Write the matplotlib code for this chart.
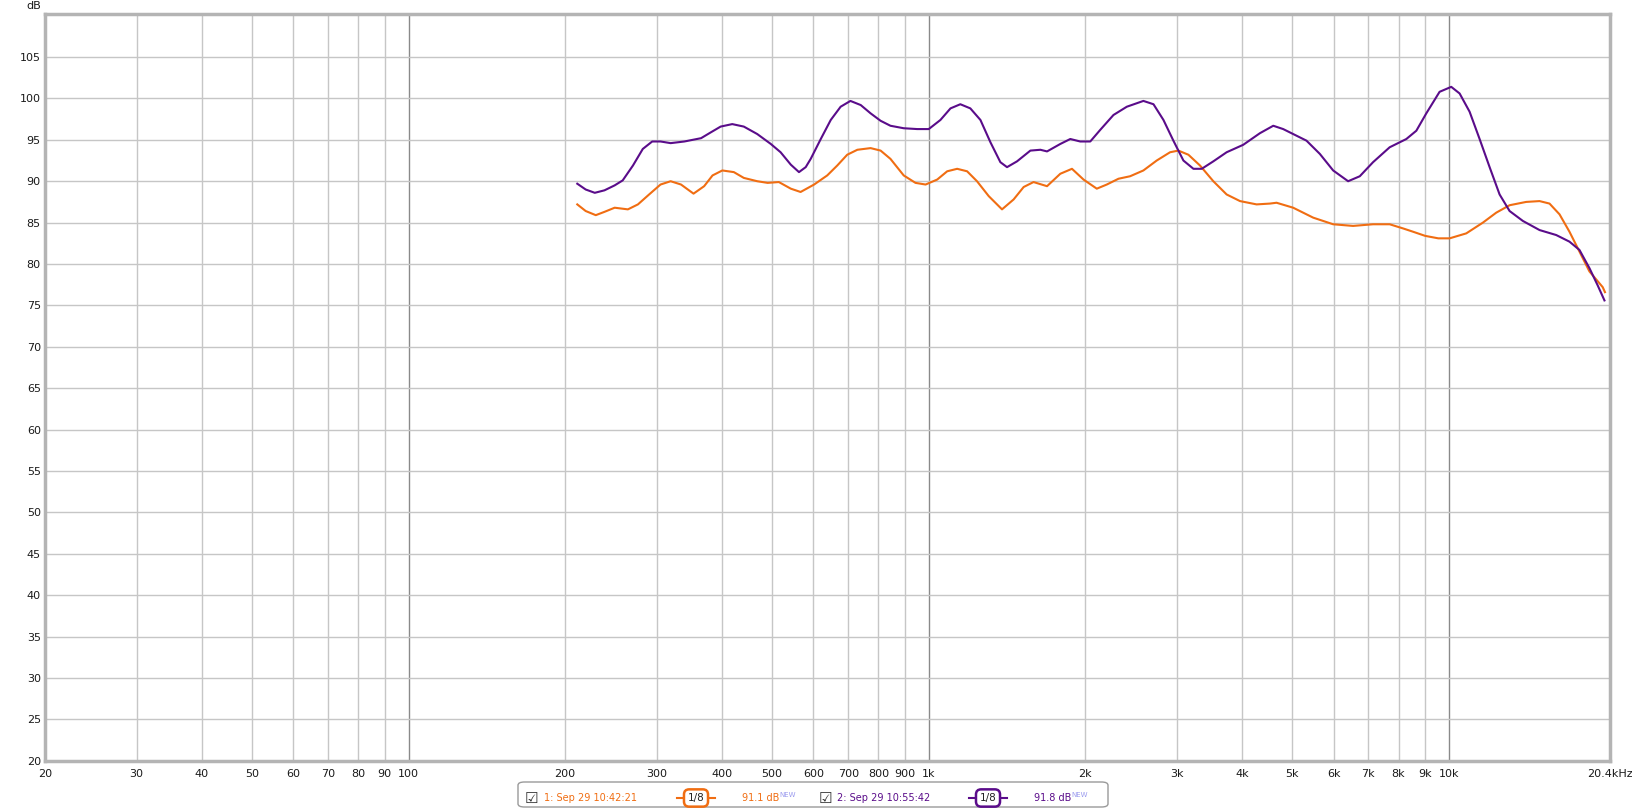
## Frequency response of two measurements (REW style plot)

import numpy as np
import matplotlib.pyplot as plt
from matplotlib.patches import FancyBboxPatch
from matplotlib.lines import Line2D

######################################
######DATA############################
######################################

# measurement 1 (orange)
freq1 = [211, 219, 229, 238, 249, 264, 276, 290, 305, 319, 334, 353, 370, 384, 401, 422,
         441, 468, 490, 515, 543, 567, 602, 638, 667, 697, 729, 773, 808, 844, 895, 943,
         986, 1038, 1085, 1134, 1185, 1238, 1304, 1383, 1456, 1522, 1590, 1688, 1790,
         1885, 1984, 2104, 2199, 2316, 2438, 2586, 2743, 2910, 3019, 3156, 3322, 3524,
         3738, 3966, 4268, 4528, 4662, 5018, 5483, 5990, 6542, 7147, 7692, 8160, 8530,
         9000, 9540, 10030, 10798, 11622, 12328, 13080, 14079, 14935, 15608, 16316,
         17049, 17820, 18626, 19754, 19950]
spl1 = [87.2, 86.4, 85.9, 86.3, 86.8, 86.6, 87.2, 88.4, 89.6, 90.0, 89.6, 88.5, 89.4, 90.7,
        91.3, 91.1, 90.4, 90.0, 89.8, 89.9, 89.1, 88.7, 89.6, 90.7, 91.9, 93.2, 93.8, 94.0,
        93.7, 92.7, 90.7, 89.8, 89.6, 90.2, 91.2, 91.5, 91.2, 90.0, 88.2, 86.6, 87.8, 89.3,
        89.9, 89.4, 90.9, 91.5, 90.2, 89.1, 89.6, 90.3, 90.6, 91.3, 92.5, 93.5, 93.7, 93.2,
        91.9, 90.0, 88.4, 87.6, 87.2, 87.3, 87.4, 86.8, 85.6, 84.8, 84.6, 84.8, 84.8, 84.3,
        83.9, 83.4, 83.1, 83.1, 83.7, 85.0, 86.2, 87.1, 87.5, 87.6, 87.3, 86.0, 83.9, 81.5,
        79.1, 77.2, 76.6]

# measurement 2 (purple)
freq2 = [211, 219, 228, 238, 249, 258, 270, 282, 294, 305, 319, 339, 365, 381, 398, 419,
         441, 468, 497, 519, 543, 563, 580, 593, 620, 648, 677, 707, 740, 773, 808, 844,
         895, 950, 1000, 1053, 1101, 1150, 1202, 1257, 1314, 1373, 1414, 1478, 1568, 1639,
         1688, 1790, 1871, 1955, 2044, 2136, 2265, 2403, 2586, 2704, 2826, 2953, 3087,
         3227, 3348, 3524, 3738, 4023, 4331, 4595, 4801, 5018, 5323, 5647, 5990, 6400,
         6739, 7147, 7692, 8282, 8656, 9047, 9594, 10103, 10484, 10957, 11454, 11973,
         12514, 13080, 13873, 14935, 16077, 17049, 17820, 18626, 19323, 19906]
spl2 = [89.7, 89.0, 88.6, 88.9, 89.5, 90.1, 91.9, 93.9, 94.8, 94.8, 94.6, 94.8, 95.2, 95.9,
        96.6, 96.9, 96.6, 95.7, 94.5, 93.5, 92.0, 91.1, 91.7, 92.7, 95.1, 97.4, 99.0, 99.7,
        99.2, 98.2, 97.3, 96.7, 96.4, 96.3, 96.3, 97.4, 98.8, 99.3, 98.8, 97.4, 94.7, 92.3,
        91.7, 92.4, 93.7, 93.8, 93.6, 94.5, 95.1, 94.8, 94.8, 96.2, 98.0, 99.0, 99.7, 99.3,
        97.4, 94.9, 92.5, 91.5, 91.5, 92.4, 93.5, 94.4, 95.8, 96.7, 96.3, 95.7, 94.9, 93.3,
        91.3, 90.0, 90.6, 92.3, 94.1, 95.1, 96.1, 98.2, 100.8, 101.4, 100.6, 98.4, 95.1,
        91.7, 88.4, 86.4, 85.2, 84.1, 83.5, 82.7, 81.7, 79.5, 77.4, 75.6]

xticks = [20, 30, 40, 50, 60, 70, 80, 90, 100, 200, 300, 400, 500, 600, 700, 800, 900,
          1000, 2000, 3000, 4000, 5000, 6000, 7000, 8000, 9000, 10000, 20400]
xticklabels = ['20', '30', '40', '50', '60', '70', '80', '90', '100', '200', '300', '400',
               '500', '600', '700', '800', '900', '1k', '2k', '3k', '4k', '5k', '6k', '7k',
               '8k', '9k', '10k', '20.4kHz']
yticks = list(range(20, 110, 5))

names = ['1: Sep 29 10:42:21', '2: Sep 29 10:55:42']
levels = ['91.1 dB', '91.8 dB']

orange = '#f06d12'
purple = '#5a0c8a'

#####################
######Plots##########
#####################

plt.rcParams['font.family'] = ['DejaVu Sans']

W = 1633.0
H = 809.0

fig = plt.figure(figsize=(16.33, 8.09), dpi=100)
ax = fig.add_axes([45 / W, 1 - 760.7 / H, (1610 - 45) / W, (760.7 - 14) / H])

ax.set_xscale('log')
ax.set_xlim(20, 20400)
ax.set_ylim(20, 110.2)

# grid lines, decades a bit darker
for f in xticks:
    if f in (100, 1000, 10000):
        ax.axvline(f, color='#8a8a8a', lw=1.0, zorder=1)
    else:
        ax.axvline(f, color='#c6c6c6', lw=1.0, zorder=1)
for y in yticks:
    ax.axhline(y, color='#c6c6c6', lw=1.0, zorder=1)

ax.plot(freq1, spl1, color=orange, lw=1.5, zorder=3, solid_joinstyle='round')
ax.plot(freq2, spl2, color=purple, lw=1.5, zorder=4, solid_joinstyle='round')

ax.set_xticks(xticks)
ax.set_xticklabels(xticklabels)
ax.xaxis.set_minor_locator(plt.NullLocator())
ax.set_yticks(yticks)
ax.tick_params(axis='both', length=0, labelsize=8, colors='#1a1a1a')
ax.tick_params(axis='x', pad=6)
ax.tick_params(axis='y', pad=3)

for s in ax.spines.values():
    s.set_color('#b4b4b4')
    s.set_linewidth(2.5)

fig.text(34 / W, 1 - 1 / H, 'dB', fontsize=8, color='#1a1a1a', ha='center', va='top')

#####################
######Legend#########
#####################

ly = 1 - 798 / H

box = FancyBboxPatch((518 / W, 1 - 807 / H), (1108 - 518) / W, 25 / H,
                     boxstyle='round,pad=0,rounding_size=0.004',
                     transform=fig.transFigure, fc='white', ec='#9a9a9a', lw=1.0)
fig.patches.append(box)

# checkbox, name, 1/8 box, level, NEW
xs = [[531, 544, 696, 742, 779], [825, 837, 988, 1034, 1071]]
cols = [orange, purple]
for i in range(2):
    c = cols[i]
    fig.text(xs[i][0] / W, ly, '\u2611', fontsize=11, color='#333333', ha='center', va='center')
    fig.text(xs[i][1] / W, ly, names[i], fontsize=7, color=c, ha='left', va='center')
    fig.lines.append(Line2D([(xs[i][2] - 19) / W, (xs[i][2] + 19) / W], [ly, ly],
                            transform=fig.transFigure, color=c, lw=1.5))
    fig.text(xs[i][2] / W, ly, '1/8', fontsize=7.5, color='#222222', ha='center', va='center',
             bbox=dict(boxstyle='round,pad=0.35,rounding_size=0.5', fc='white', ec=c, lw=1.8))
    fig.text(xs[i][3] / W, ly, levels[i], fontsize=7, color=c, ha='left', va='center')
    fig.text(xs[i][4] / W, ly + 0.004, 'NEW', fontsize=5, color='#9b9bef', ha='left', va='center')

plt.savefig('out.png', dpi=100)
